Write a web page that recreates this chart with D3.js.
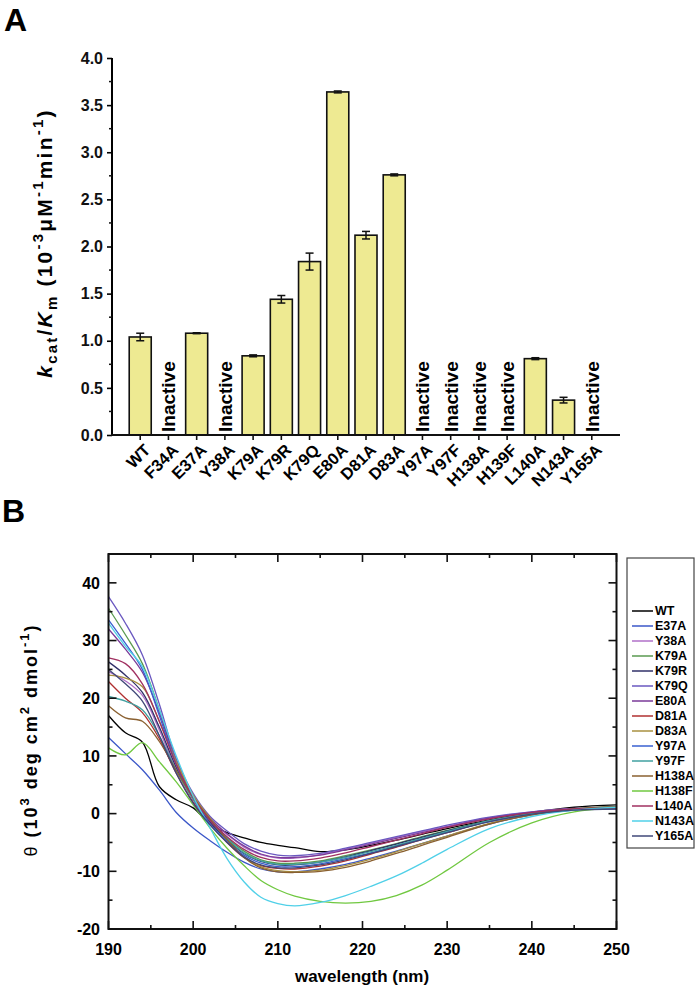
<!DOCTYPE html>
<html><head><meta charset="utf-8">
<script src="https://cdn.jsdelivr.net/npm/d3@7/dist/d3.min.js"></script>
<style>
body{margin:0;background:#fff;}
svg{display:block;font-family:"Liberation Sans",Arial,Helvetica,sans-serif;font-weight:bold;}
</style></head>
<body><svg id="c" width="700" height="991"></svg>
<script>
// ---------- Panel A data ----------
const mutants = ["WT","F34A","E37A","Y38A","K79A","K79R","K79Q","E80A","D81A","D83A","Y97A","Y97F","H138A","H139F","L140A","N143A","Y165A"];
const kcatKm  = [1.04, null, 1.08, null, 0.84, 1.44, 1.84, 3.64, 2.12, 2.76, null, null, null, null, 0.81, 0.37, null];
const kcatErr = [0.04, null, 0.005, null, 0.01, 0.04, 0.09, 0.01, 0.04, 0.01, null, null, null, null, 0.01, 0.03, null];
const yTicksA = [0.0,0.5,1.0,1.5,2.0,2.5,3.0,3.5,4.0];

// ---------- Panel B data ----------
const wavelength = [190,192,194,196,198,200,202,204,206,208,210,212,215,218,221,224,227,230,235,240,245,250];
const cdNames  = ["WT","E37A","Y38A","K79A","K79R","K79Q","E80A","D81A","D83A","Y97A","Y97F","H138A","H138F","L140A","N143A","Y165A"];
const cdColors = ["#000000","#3b57c8","#b070c8","#5a9a50","#303068","#6a58c0","#7a3a98","#b03030","#a89040","#3a60d0","#40a0a0","#8a6030","#70c840","#a03060","#50d0e8","#404878"];
const cdWT    = [17,14,12.4,4.7,2.4,1.0,-1.8,-3.3,-4.2,-5.0,-5.5,-5.9,-6.6,-6.3,-5.5,-4.6,-3.6,-2.6,-1.1,0.2,1.1,1.5];
const cdE37A  = [13.2,10.4,7.6,4.1,0.2,-2.5,-4.7,-6.7,-8.4,-9.6,-10.1,-10.1,-9.6,-8.8,-7.7,-6.5,-5.2,-3.9,-1.8,-0.2,0.6,1.0];
const cdY38A  = [24.6,23,20.5,14.5,7.5,2.5,-1,-3.6,-5.8,-7.1,-7.7,-7.7,-7.1,-6.1,-5.1,-4.1,-3.1,-2.2,-0.7,0.3,0.9,1.0];
const cdK79A  = [35.6,31,26,18,9,3,-1.2,-4.2,-6.5,-8,-8.6,-8.6,-8.2,-7.3,-6.3,-5.2,-4.0,-2.9,-1.2,0,0.8,1.2];
const cdK79R  = [26.3,24,21,15,8,2.5,-1.5,-4.5,-6.9,-8.3,-8.9,-8.9,-8.4,-7.5,-6.4,-5.3,-4.1,-3.0,-1.2,0,0.7,0.9];
const cdK79Q  = [37.6,33,27.5,19,9.5,3.5,-0.5,-3,-5.2,-6.5,-7.2,-7.3,-6.9,-6.0,-5.0,-4.0,-3.0,-2.0,-0.6,0.3,0.8,0.8];
const cdE80A  = [32,28.5,24.5,17.5,9,3,-0.8,-3.5,-5.6,-7,-7.6,-7.6,-7.2,-6.3,-5.3,-4.3,-3.3,-2.3,-0.8,0.2,0.8,0.9];
const cdD81A  = [22.9,20,17.5,13,7,2,-1.8,-5,-7.6,-9,-9.5,-9.6,-9.1,-8.2,-7.0,-5.8,-4.5,-3.3,-1.3,0,0.8,1.1];
const cdD83A  = [24,23.5,22,16,9,3.2,-0.8,-4.5,-7.5,-9.2,-9.9,-10.1,-9.8,-9.0,-7.9,-6.6,-5.2,-3.9,-1.7,-0.2,0.7,1.1];
const cdY97A  = [33.6,29.5,25,17,8.5,2.5,-1.8,-4.8,-7.2,-8.6,-9.2,-9.2,-8.7,-7.8,-6.8,-5.6,-4.4,-3.2,-1.4,-0.1,0.7,1.0];
const cdY97F  = [20.3,19.5,18,13.5,7.5,2.5,-1.2,-4.3,-6.8,-8.2,-8.8,-8.8,-8.4,-7.6,-6.6,-5.5,-4.3,-3.1,-1.2,0,0.8,1.2];
const cdH138A = [18.7,16.6,16,12.5,7.5,2.8,-1,-4.5,-7.6,-9.4,-10.1,-10.2,-10.0,-9.3,-8.2,-6.9,-5.5,-4.1,-1.8,-0.2,0.8,1.2];
const cdH138F = [11.4,10.2,12.3,9,5.5,1.5,-2.5,-6,-9,-11.6,-13.2,-14.3,-15.2,-15.5,-15.2,-14.2,-12.4,-9.8,-5.0,-1.6,0.3,1.0];
const cdL140A = [27,26,22.5,16,8.5,2.8,-1.2,-4,-6.2,-7.6,-8.2,-8.2,-7.7,-6.8,-5.7,-4.6,-3.5,-2.4,-0.9,0.2,0.8,1.0];
const cdN143A = [33,29,25.5,18,10,3,-2.5,-7.8,-11.8,-14.5,-15.6,-16,-15.4,-14.2,-12.6,-10.8,-8.6,-6.2,-2.6,-0.5,0.6,1.1];
const cdY165A = [25,22.5,19.5,13.5,7,1.8,-2,-5,-7.5,-8.9,-9.4,-9.4,-8.9,-8.0,-6.9,-5.7,-4.5,-3.3,-1.4,-0.1,0.6,0.8];
const cdSeries = [cdWT,cdE37A,cdY38A,cdK79A,cdK79R,cdK79Q,cdE80A,cdD81A,cdD83A,cdY97A,cdY97F,cdH138A,cdH138F,cdL140A,cdN143A,cdY165A];
const xTicksB = [190,200,210,220,230,240,250];
const yTicksB = [-20,-10,0,10,20,30,40];

const svg = d3.select("#c");

// ================= Panel A =================
svg.append("text").attr("x",4).attr("y",31).attr("font-size",32).text("A");

const xA = d3.scaleLinear().domain([0, mutants.length+1]).range([112, 620]);
const yA = d3.scaleLinear().domain([0, 4]).range([435, 58]);
const gA = svg.append("g");
const barW = (xA(1)-xA(0))*0.78;

const barsData = mutants.map((m,i)=>({m, i, v:kcatKm[i], e:kcatErr[i]}));
gA.selectAll("rect.bar").data(barsData.filter(d=>d.v!==null)).join("rect")
  .attr("x", d=>xA(d.i+1)-barW/2).attr("width", barW)
  .attr("y", d=>yA(d.v)).attr("height", d=>yA(0)-yA(d.v))
  .attr("fill","#eeea92").attr("stroke","#111").attr("stroke-width",1.6);
const eb = gA.selectAll("g.eb").data(barsData.filter(d=>d.v!==null)).join("g");
eb.append("line").attr("x1",d=>xA(d.i+1)).attr("x2",d=>xA(d.i+1))
  .attr("y1",d=>yA(d.v+d.e)).attr("y2",d=>yA(d.v-d.e)).attr("stroke","#111").attr("stroke-width",1.5);
eb.append("line").attr("x1",d=>xA(d.i+1)-4).attr("x2",d=>xA(d.i+1)+4)
  .attr("y1",d=>yA(d.v+d.e)).attr("y2",d=>yA(d.v+d.e)).attr("stroke","#111").attr("stroke-width",1.5);
eb.append("line").attr("x1",d=>xA(d.i+1)-4).attr("x2",d=>xA(d.i+1)+4)
  .attr("y1",d=>yA(d.v-d.e)).attr("y2",d=>yA(d.v-d.e)).attr("stroke","#111").attr("stroke-width",1.5);
gA.selectAll("text.inact").data(barsData.filter(d=>d.v===null)).join("text")
  .attr("transform", d=>`translate(${xA(d.i+1)},432) rotate(-90)`)
  .attr("dy","0.36em").attr("font-size",19).text("Inactive");

const yAxisA = d3.axisLeft(yA).tickValues(yTicksA).tickFormat(d3.format(".1f")).tickSize(5).tickPadding(4);
const gy = gA.append("g").attr("transform","translate(112,0)").call(yAxisA);
gy.selectAll(".tick text").attr("font-size",16).attr("font-weight","bold").attr("fill","#111");
gy.select(".domain").attr("stroke-width",2).attr("d", `M0,${yA(4)}V${yA(0)}`);
gy.selectAll(".tick line").attr("stroke-width",1.6);
gA.append("g").selectAll("line").data(d3.range(0.25,4,0.5)).join("line")
  .attr("x1",112).attr("x2",109).attr("y1",d=>yA(d)).attr("y2",d=>yA(d)).attr("stroke","#111").attr("stroke-width",1.5);

gA.append("line").attr("x1",111).attr("x2",620).attr("y1",435).attr("y2",435).attr("stroke","#111").attr("stroke-width",2);
gA.selectAll("line.xt").data(mutants).join("line")
  .attr("x1",(d,i)=>xA(i+1)).attr("x2",(d,i)=>xA(i+1)).attr("y1",435).attr("y2",440).attr("stroke","#111").attr("stroke-width",1.6);
gA.selectAll("text.xl").data(mutants).join("text")
  .attr("transform",(d,i)=>`translate(${xA(i+1)+7},447) rotate(-45)`)
  .attr("text-anchor","end").attr("dy","0.35em").attr("font-size",16.5).text(d=>d);

const tA = gA.append("text").attr("transform","translate(52,243) rotate(-90)").attr("text-anchor","middle")
  .attr("font-size",21).attr("letter-spacing",2.2);
tA.append("tspan").attr("font-style","italic").text("k");
tA.append("tspan").attr("font-size",15).attr("dy",5).text("cat");
tA.append("tspan").attr("dy",-5).text("/");
tA.append("tspan").attr("font-style","italic").text("K");
tA.append("tspan").attr("font-size",15).attr("dy",5).text("m");
tA.append("tspan").attr("dy",-5).text(" (10");
tA.append("tspan").attr("font-size",15).attr("dy",-9).text("-3");
tA.append("tspan").attr("dy",9).text("μM");
tA.append("tspan").attr("font-size",15).attr("dy",-9).text("-1");
tA.append("tspan").attr("dy",9).text("min");
tA.append("tspan").attr("font-size",15).attr("dy",-9).text("-1");
tA.append("tspan").attr("dy",9).text(")");

// ================= Panel B =================
svg.append("text").attr("x",2).attr("y",522).attr("font-size",32).text("B");

const xB = d3.scaleLinear().domain([190,250]).range([108.5,616.5]);
const yB = d3.scaleLinear().domain([-20,45]).range([929,554]);
const gB = svg.append("g");

const line = d3.line().x((d,i)=>xB(wavelength[i])).y(d=>yB(d)).curve(d3.curveCatmullRom.alpha(0.5));
gB.selectAll("path.cd").data(cdSeries).join("path")
  .attr("d", d=>line(d)).attr("fill","none")
  .attr("stroke",(d,i)=>cdColors[i]).attr("stroke-width",1.3);

gB.append("rect").attr("x",xB(190)).attr("y",yB(45)).attr("width",xB(250)-xB(190)).attr("height",yB(-20)-yB(45))
  .attr("fill","none").attr("stroke","#111").attr("stroke-width",2);

const xMaj = xTicksB, xMin = d3.range(195,250,10);
const yMaj = yTicksB, yMin = d3.range(-15,45,10);
function tk(sel, data, x1,x2,y1,y2){ sel.append("g").selectAll("line").data(data).join("line")
  .attr("x1",x1).attr("x2",x2).attr("y1",y1).attr("y2",y2).attr("stroke","#111").attr("stroke-width",1.6); }
tk(gB, xMaj, d=>xB(d), d=>xB(d), yB(-20), yB(-20)-8);
tk(gB, xMin, d=>xB(d), d=>xB(d), yB(-20), yB(-20)-4);
tk(gB, xMaj, d=>xB(d), d=>xB(d), yB(45), yB(45)+8);
tk(gB, xMin, d=>xB(d), d=>xB(d), yB(45), yB(45)+4);
tk(gB, yMaj, xB(190), xB(190)+8, d=>yB(d), d=>yB(d));
tk(gB, yMin, xB(190), xB(190)+4, d=>yB(d), d=>yB(d));
tk(gB, yMaj, xB(250), xB(250)-8, d=>yB(d), d=>yB(d));
tk(gB, yMin, xB(250), xB(250)-4, d=>yB(d), d=>yB(d));

gB.selectAll("text.xb").data(xTicksB).join("text").attr("x",d=>xB(d)).attr("y",955)
  .attr("text-anchor","middle").attr("font-size",16).text(d=>d);
gB.selectAll("text.yb").data(yTicksB).join("text").attr("x",100).attr("y",d=>yB(d))
  .attr("text-anchor","end").attr("dy","0.36em").attr("font-size",16).text(d=>d);

gB.append("text").attr("x",362).attr("y",982).attr("text-anchor","middle").attr("font-size",17).text("wavelength  (nm)");

const tB = gB.append("text").attr("transform","translate(37,740) rotate(-90)").attr("text-anchor","middle")
  .attr("font-size",18).attr("letter-spacing",2);
tB.append("tspan").attr("font-weight","normal").text("θ");
tB.append("tspan").text(" (10");
tB.append("tspan").attr("font-size",13).attr("dy",-8).text("3");
tB.append("tspan").attr("dy",8).text(" deg cm");
tB.append("tspan").attr("font-size",13).attr("dy",-8).text("2");
tB.append("tspan").attr("dy",8).text(" dmol");
tB.append("tspan").attr("font-size",13).attr("dy",-8).text("-1");
tB.append("tspan").attr("dy",8).text(")");

const lg = gB.append("g");
lg.append("rect").attr("x",627).attr("y",558).attr("width",67).attr("height",290)
  .attr("fill","#fff").attr("stroke","#444").attr("stroke-width",1.2);
const le = lg.selectAll("g.le").data(cdNames).join("g").attr("transform",(d,i)=>`translate(0,${611+i*15})`);
le.append("line").attr("x1",632).attr("x2",653).attr("stroke",(d,i)=>cdColors[i]).attr("stroke-width",1.5);
le.append("text").attr("x",655).attr("dy","0.35em").attr("font-size",12.5).text(d=>d);
</script></body></html>
